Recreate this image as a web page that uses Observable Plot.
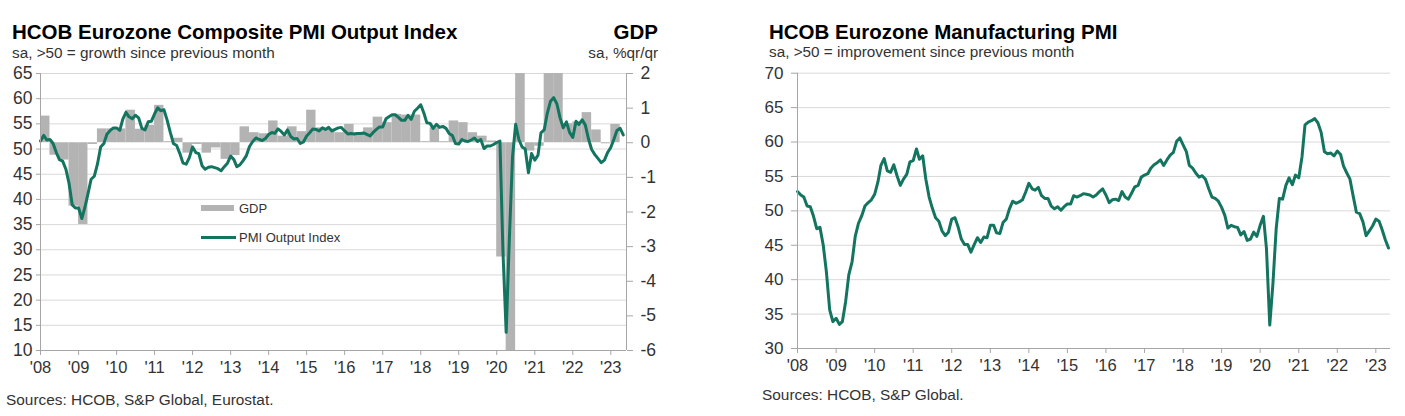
<!DOCTYPE html>
<html><head><meta charset="utf-8">
<script src="https://cdn.jsdelivr.net/npm/d3@7"></script>
<script src="https://cdn.jsdelivr.net/npm/@observablehq/plot@0.6"></script>
<style>
body{margin:0;background:#fff;font-family:"Liberation Sans",Arial,sans-serif;}
#page{position:relative;width:1405px;height:416px;overflow:hidden;background:#fff;}
.t{position:absolute;white-space:nowrap;line-height:1;z-index:2;}
.title{font-weight:bold;font-size:20.5px;color:#000;}
.sub{font-size:15.3px;color:#333;}
.cap{font-size:15.4px;color:#333;}
.leg{font-size:13px;color:#333;}
.chart{position:absolute;z-index:1;}
.sw{position:absolute;z-index:2;}
</style></head>
<body><div id="page">
<div id="left" class="chart" style="left:0;top:60px"></div>
<div id="right" class="chart" style="left:750px;top:60px"></div>
<div class="t title" style="left:12px;top:21.5px">HCOB Eurozone Composite PMI Output Index</div>
<div class="t sub" style="left:12px;top:44.5px">sa, &gt;50 = growth since previous month</div>
<div class="t title" style="right:747px;top:21.5px;">GDP</div>
<div class="t sub" style="right:747px;top:44.5px;">sa, %qr/qr</div>
<div class="t cap" style="left:6px;top:391.5px">Sources: HCOB, S&amp;P Global, Eurostat.</div>
<div class="t title" style="left:769px;top:21.5px">HCOB Eurozone Manufacturing PMI</div>
<div class="t sub" style="left:769px;top:44px">sa, &gt;50 = improvement since previous month</div>
<div class="t cap" style="left:762px;top:386.5px">Sources: HCOB, S&amp;P Global.</div>
<div class="sw" style="left:201px;top:205px;width:33px;height:6px;background:#b3b3b3"></div>
<div class="t leg" style="left:239px;top:202px">GDP</div>
<div class="sw" style="left:201px;top:235.5px;width:35px;height:3px;background:#137560"></div>
<div class="t leg" style="left:239px;top:231px">PMI Output Index</div>
</div>
<script>
// Composite PMI Output Index, monthly from Jan 2008
const compositePMI = [
  51.6,52.7,51.8,51.9,51.1,49.3,47.9,47.6,46.0,43.2,38.9,38.3,
  38.3,36.2,38.3,41.1,44.0,44.6,47.0,50.4,51.1,53.0,53.7,54.2,
  54.2,53.7,55.9,57.3,56.4,56.0,56.7,56.2,54.1,53.8,55.4,55.5,
  57.0,58.2,57.6,57.8,55.8,53.3,51.1,50.7,49.1,47.2,47.0,48.3,
  50.4,49.3,49.1,46.7,46.0,46.4,46.5,46.3,46.1,45.7,46.5,47.2,
  48.6,47.9,46.5,46.9,47.7,48.7,50.5,51.5,52.2,51.9,51.7,52.1,
  52.9,53.3,53.1,54.0,53.5,52.8,53.8,52.5,52.0,52.1,51.1,51.4,
  52.6,53.3,54.0,53.9,53.6,54.2,53.9,54.3,53.6,53.9,54.2,54.3,
  53.6,53.0,53.1,53.0,53.1,53.1,53.2,52.9,52.6,53.3,53.9,54.4,
  54.4,56.0,56.4,56.8,56.8,56.3,55.7,55.7,56.7,55.9,57.5,58.1,
  58.8,57.1,55.2,55.1,54.1,54.9,54.3,54.5,54.1,53.1,52.7,51.1,
  51.0,51.9,51.6,51.5,51.8,52.2,51.5,51.9,50.1,50.6,50.6,50.9,
  51.3,51.6,29.7,13.6,31.9,48.5,54.9,51.9,50.4,50.0,45.3,49.1,
  47.8,48.8,53.2,53.8,57.1,59.5,60.2,59.0,56.2,54.2,55.4,53.3,
  52.3,55.5,54.9,55.8,54.8,52.0,49.9,48.9,48.1,47.3,47.8,49.3,
  50.3,52.0,53.7,54.1,52.8
];
// Manufacturing PMI, monthly from Jan 2008
const manufacturingPMI = [
  52.8,52.3,52.0,50.7,50.6,49.2,47.4,47.6,45.0,41.1,35.6,33.9,
  34.4,33.5,33.9,36.8,40.7,42.6,46.3,48.2,49.3,50.7,51.2,51.6,
  52.4,54.2,56.6,57.6,55.8,55.6,56.7,55.1,53.7,54.6,55.3,57.1,
  57.3,59.0,57.5,58.0,54.6,52.0,50.4,49.0,48.5,47.1,46.4,46.9,
  48.8,49.0,47.7,45.9,45.1,45.1,44.0,45.1,46.1,45.4,46.2,46.1,
  47.9,47.9,46.8,46.7,48.3,48.8,50.3,51.4,51.1,51.3,51.6,52.7,
  54.0,53.2,53.0,53.4,52.2,51.8,51.8,50.7,50.3,50.6,50.1,50.6,
  51.0,51.0,52.2,52.0,52.2,52.5,52.4,52.3,52.0,52.3,52.8,53.2,
  52.3,51.2,51.6,51.7,51.5,52.8,52.0,51.7,52.6,53.5,53.7,54.9,
  55.2,55.4,56.2,56.7,57.0,57.4,56.6,57.4,58.1,58.5,60.1,60.6,
  59.6,58.6,56.6,56.2,55.5,54.9,55.1,54.6,53.2,52.0,51.8,51.4,
  50.5,49.3,47.5,47.9,47.7,47.6,46.5,47.0,45.7,45.9,46.9,46.3,
  47.9,49.2,44.5,33.4,39.4,47.4,51.8,51.7,53.7,54.8,53.8,55.2,
  54.8,57.9,62.5,62.9,63.1,63.4,62.8,61.4,58.6,58.3,58.4,58.0,
  58.7,58.2,56.5,55.5,54.6,52.1,49.8,49.6,48.4,46.4,47.1,47.8,
  48.8,48.5,47.3,45.8,44.6
];
// GDP % q/q, quarterly from 2008 Q1
const gdpQoQ = [
  0.77,-0.36,-0.50,-1.83,
  -2.36,-0.05,0.40,0.40,
  0.40,0.94,0.39,0.50,
  1.08,0.03,0.13,-0.30,
  -0.05,-0.30,-0.15,-0.48,
  -0.37,0.46,0.29,0.26,
  0.63,0.19,0.46,0.32,
  0.94,0.43,0.39,0.29,
  0.53,0.29,0.43,0.74,
  0.58,0.82,0.80,0.80,
  0.03,0.43,0.03,0.63,
  0.58,0.29,0.19,0.05,
  -3.30,-11.4,12.6,-0.24,
  -0.10,2.2,2.3,0.55,
  0.60,0.87,0.37,-0.03,
  0.53
];
const leftTicks = [10,15,20,25,30,35,40,45,50,55,60,65];
const gdpTicks = [-6,-5,-4,-3,-2,-1,0,1,2];
const rightTicks = [30,35,40,45,50,55,60,65,70];
const yearTicks = d3.range(2008, 2024);

const green = "#137560", grid = "#d9d9d9", axisC = "#a6a6a6", txt = "#333";
const yearDates = yearTicks.map(y => new Date(y, 0, 1));
const fmtYear = d => "'" + String(d.getFullYear()).slice(2);

// map GDP onto PMI scale: GDP 2 <-> 65, GDP -6 <-> 10
const toL = g => 65 + (g - 2) * 55 / 8;

const comp = compositePMI.map((v, i) => ({date: new Date(2008, i, 1), value: v}));
const manu = manufacturingPMI.map((v, i) => ({date: new Date(2008, i, 1), value: v}));
const gdp = gdpQoQ.map((g, k) => ({x1: new Date(2008, 3 * k, 1), x2: new Date(2008, 3 * k + 3, 1), y1: toL(0), y2: toL(g)}));

const lStart = new Date(2008, 0, 1), lEnd = new Date(2023, 5, 1);
const left = Plot.plot({
  width: 670, height: 330,
  marginLeft: 40, marginRight: 44, marginTop: 13, marginBottom: 40,
  style: {fontFamily: "Liberation Sans, Arial, sans-serif", background: "transparent"},
  x: {type: "time", domain: [lStart, lEnd]},
  y: {domain: [10, 65]},
  marks: [
    Plot.ruleY(leftTicks.slice(1), {stroke: grid, strokeWidth: 1}),
    Plot.rect(gdp, {x1: "x1", x2: "x2", y1: "y1", y2: "y2", fill: "#b3b3b3", clip: true}),
    Plot.lineY(comp, {x: "date", y: "value", stroke: green, strokeWidth: 3, strokeLinejoin: "round"}),
    Plot.ruleX([lStart, lEnd], {stroke: axisC}),
    Plot.ruleY([10], {stroke: axisC}),
    Plot.axisY(leftTicks, {anchor: "left", tickSize: 4, tickPadding: 4, fontSize: 17.5, stroke: axisC, fill: txt, label: null, tickFormat: d => String(d)}),
    Plot.axisY(gdpTicks.map(toL), {anchor: "right", tickSize: 6, tickPadding: 8, fontSize: 17.5, stroke: axisC, fill: txt, label: null,
      tickFormat: d => String(Math.round((d - 65) * 8 / 55 + 2))}),
    Plot.axisX(yearDates, {anchor: "bottom", tickSize: 5, tickPadding: 6, fontSize: 16.5, stroke: axisC, fill: txt, label: null, tickFormat: fmtYear})
  ]
});
document.getElementById("left").append(left);

const rStart = new Date(2008, 0, 1), rEnd = new Date(2023, 4, 20);
const right = Plot.plot({
  width: 650, height: 330,
  marginLeft: 47, marginRight: 10, marginTop: 12.7, marginBottom: 42,
  style: {fontFamily: "Liberation Sans, Arial, sans-serif", background: "transparent"},
  x: {type: "time", domain: [rStart, rEnd]},
  y: {domain: [30, 70]},
  marks: [
    Plot.ruleY(rightTicks.slice(1), {stroke: grid, strokeWidth: 1}),
    Plot.lineY(manu, {x: "date", y: "value", stroke: green, strokeWidth: 3, strokeLinejoin: "round"}),
    Plot.ruleX([rStart], {stroke: axisC}),
    Plot.ruleY([30], {stroke: axisC}),
    Plot.axisY(rightTicks, {anchor: "left", tickSize: 6, tickPadding: 8, fontSize: 17, stroke: axisC, fill: txt, label: null, tickFormat: d => String(d)}),
    Plot.axisX(yearDates, {anchor: "bottom", tickSize: 5, tickPadding: 6, fontSize: 16.5, stroke: axisC, fill: txt, label: null, tickFormat: fmtYear})
  ]
});
document.getElementById("right").append(right);
</script>
</body></html>
